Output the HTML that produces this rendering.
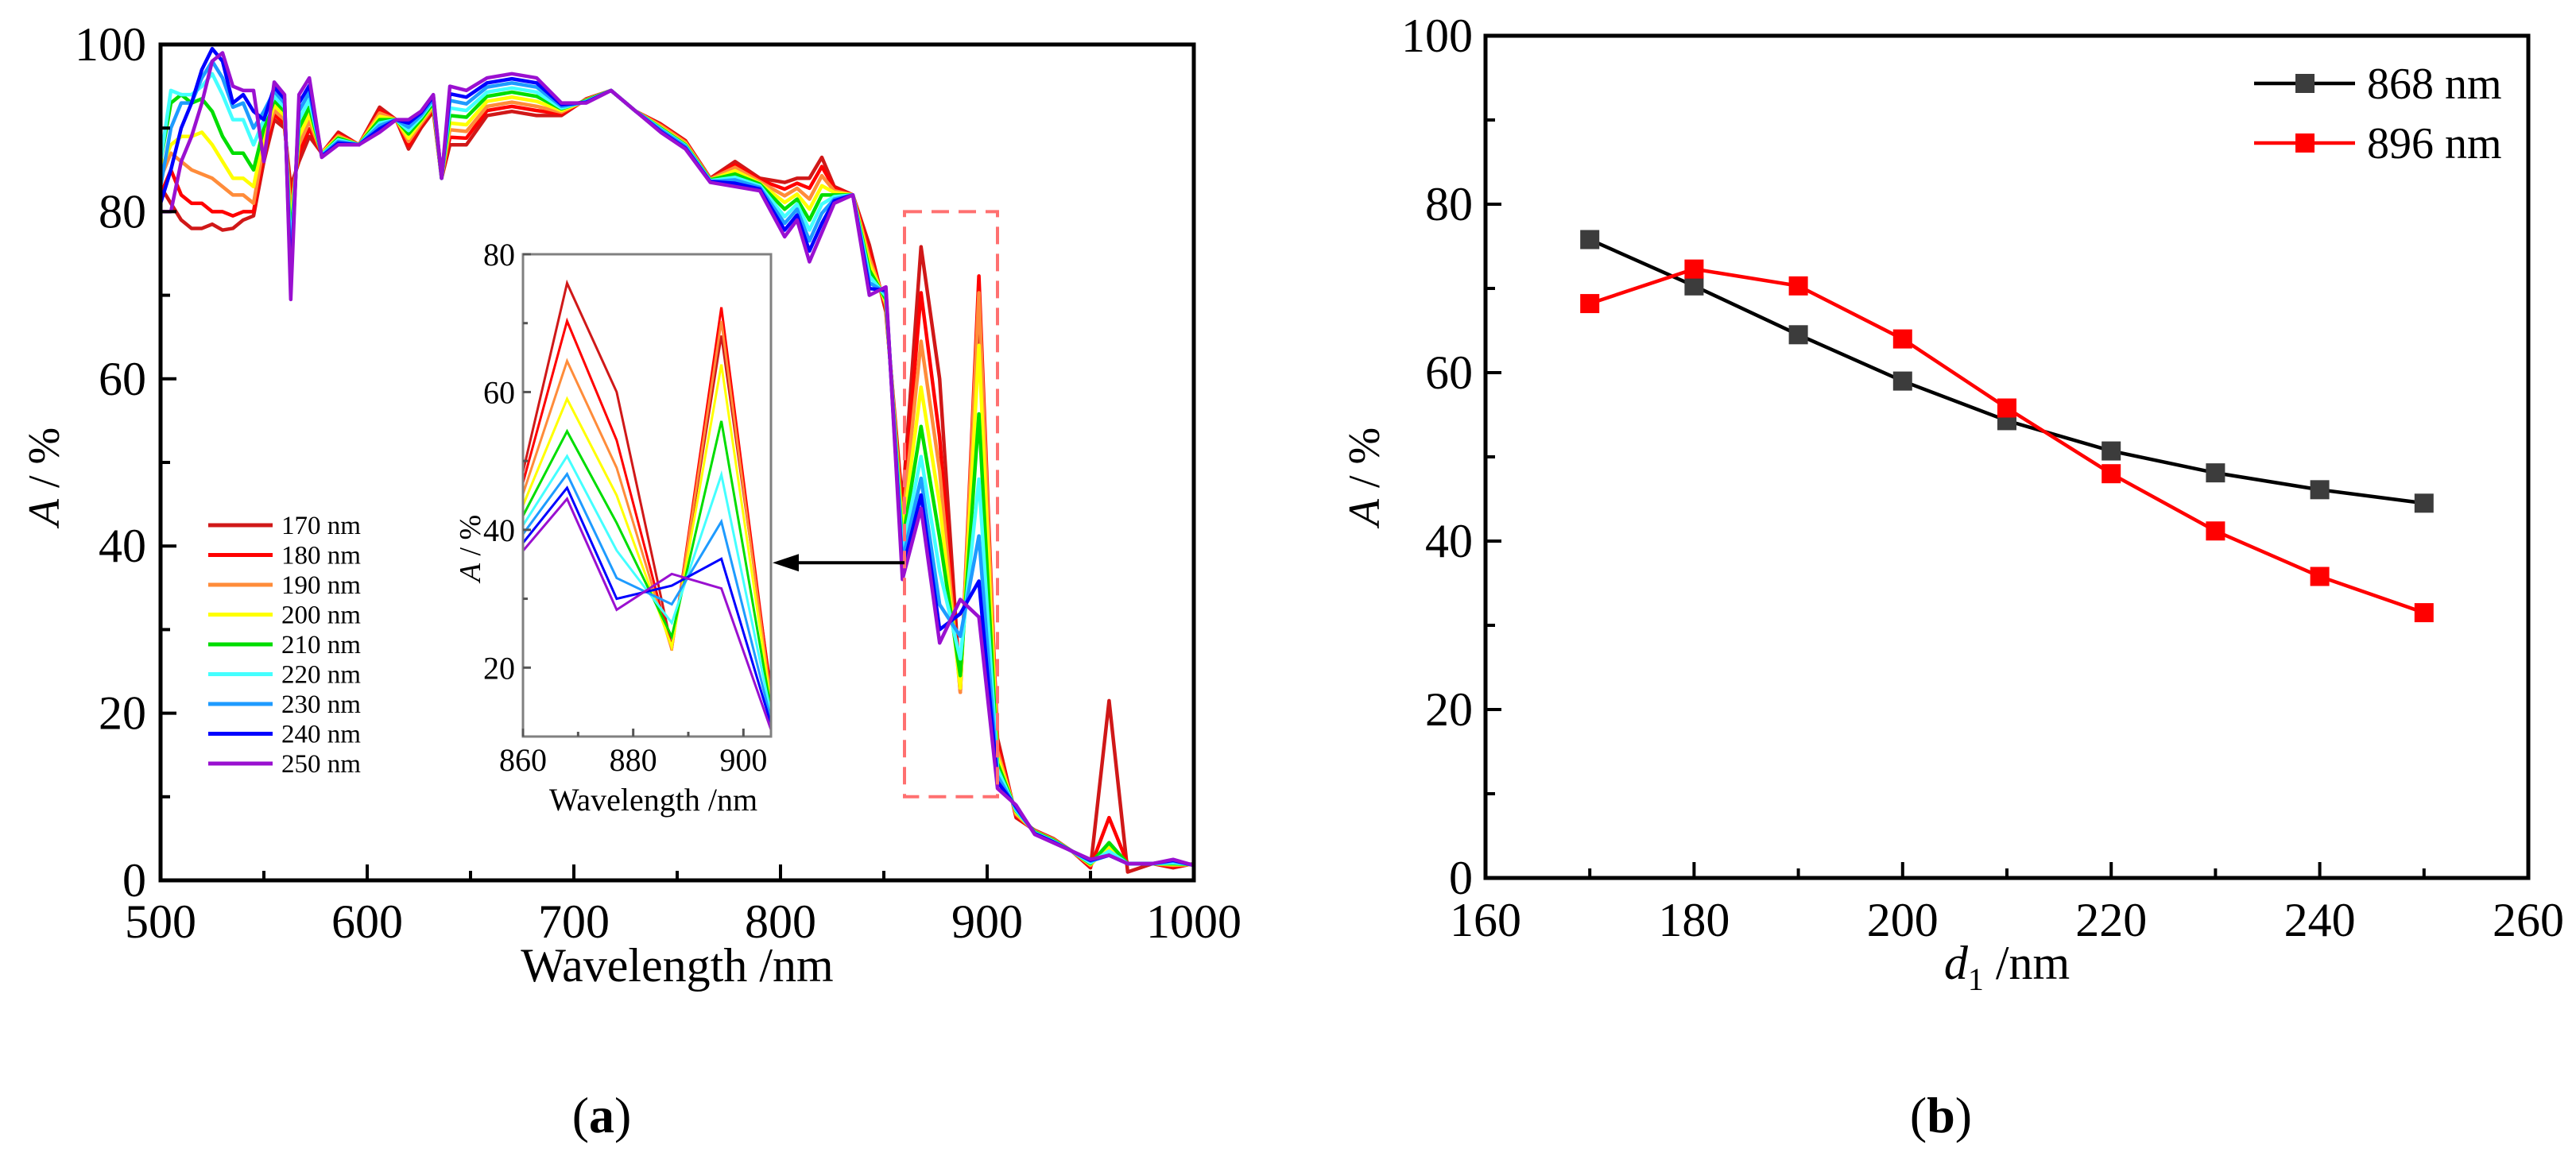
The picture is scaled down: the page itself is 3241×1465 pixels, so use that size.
<!DOCTYPE html>
<html><head><meta charset="utf-8">
<style>
html,body{margin:0;padding:0;background:#fff;}
svg{display:block;font-family:"Liberation Serif",serif;}
</style></head>
<body>
<svg id="fig" width="3241" height="1465" viewBox="0 0 3241 1465" xmlns="http://www.w3.org/2000/svg">
<rect width="3241" height="1465" fill="#fff"/>
<g id="pa"></g>
<g id="pb"></g>
<text x="757" y="1425" font-size="64" text-anchor="middle">(<tspan font-weight="bold">a</tspan>)</text>
<text x="2442" y="1425" font-size="64" text-anchor="middle">(<tspan font-weight="bold">b</tspan>)</text>
</svg>
<script>
const wl = [500,505,510,515,520,525,530,535,540,545,550,555,560,563,567,572,578,586,596,606,614,620,626,632,636,640,648,658,670,682,694,706,718,730,742,754,766,778,790,802,808,814,820,826,835,843,851,859,868,877,887,896,905,914,923,932,941,950,959,968,980,990,1000];
const s170 = [83,81,79,78,78,78.5,77.8,78,79,79.5,86,91,90,83,86,89,87,89.5,88,92.5,91,87.5,90,92,84,88,88,91.5,92,91.5,91.5,93.5,94.5,92,90.5,88.5,84,86,84,83.5,84,84,86.5,83,82,76,68,45,75.8,60,23,68.2,17,7.5,6,5,3.5,1.5,21.5,1,2,1.5,2];
const s180 = [82,85,82,81,81,80,80,79.5,80,80,87,91.6,90.5,81.3,87,89.9,87,89.3,88,92.1,91,87.9,90.3,92.3,84,88.9,88.8,92.1,92.6,92.1,91.7,93.4,94.5,92,90.4,88.4,83.9,85.6,83.8,82.7,83.4,82.8,85.4,82.8,82,75.3,68.4,43.9,70.3,53,22.5,72.3,16.3,7.7,5.9,4.9,3.5,1.6,7.5,2,2,1.6,2];
const s190 = [84,87,86,85,84.5,84,83,82,82,81,88,92.1,91,79.6,88,90.8,87,89.1,88,91.8,91,88.4,90.5,92.5,84,89.8,89.6,92.6,93.1,92.6,91.9,93.4,94.5,92,90.3,88.3,83.9,85.3,83.6,81.9,82.8,81.5,84.3,82.5,82,74.5,68.8,42.8,64.5,49,22.5,70.3,15.5,7.9,5.9,4.9,3.5,1.8,4.5,2,2,1.8,1.9];
const s200 = [85,88,89,89,89.5,88,86,84,84,83,89,92.7,91.5,77.9,89,91.6,87,88.9,88,91.4,91,88.8,90.8,92.8,84,90.6,90.4,93.2,93.7,93.2,92.1,93.3,94.5,92,90.1,88.1,83.8,84.9,83.4,81.1,82.1,80.3,83.1,82.3,82,73.8,69.1,41.6,59,45,23,64,14.8,8.1,5.8,4.8,3.5,1.9,4,2,2,1.9,1.9];
const s210 = [86,93,94,93,93.5,92,89,87,87,85,90,93.3,92,76.3,90,92.5,86.8,88.8,88,91,91,89.3,91,93,84,91.5,91.3,93.8,94.3,93.8,92.3,93.3,94.5,92,90,88,83.8,84.5,83.3,80.3,81.5,79,82,82,82,73,69.5,40.5,54.3,41,24.5,55.8,14,8.3,5.8,4.8,3.5,2,4.5,2,2,2,1.9];
const s220 = [86,94.5,94,94,95,96.5,94,91,91,88,91,93.8,92.5,74.6,91,93.4,86.8,88.6,88,90.6,91,89.7,91.3,93.3,84,92.4,92.1,94.3,94.8,94.3,92.4,93.2,94.5,92,89.9,87.9,83.7,84.1,83.1,79.4,80.9,77.8,80.9,81.8,82,72.3,69.9,39.4,50.7,37,26.5,48,13.3,8.4,5.7,4.7,3.5,2.1,3.5,2,2,2.1,1.9];
const s230 = [83,90,93,93,96,98,96,92.5,93,90,92,94.4,93,72.9,92,94.3,86.7,88.4,88,90.3,91,90.1,91.5,93.5,84,93.3,92.9,94.9,95.4,94.9,92.6,93.1,94.5,92,89.8,87.8,83.6,83.8,82.9,78.6,80.3,76.5,79.8,81.5,82,71.5,70.3,38.3,48.1,33,29.2,41.2,12.5,8.6,5.6,4.6,3.5,2.3,3,2,2,2.3,1.8];
const s240 = [81,85,90,93,97,99.5,98,93,94,92,91,94.9,93.5,71.2,93,95.1,86.6,88.2,88,89.9,91,90.6,91.8,93.8,84,94.1,93.7,95.4,95.9,95.4,92.8,93.1,94.5,92,89.6,87.6,83.6,83.4,82.7,77.8,79.6,75.3,78.6,81.3,82,70.8,70.6,37.1,46.1,30,31.9,35.8,11.8,8.8,5.6,4.6,3.5,2.4,3,2,2,2.4,1.8];
const s250 = [80,80,86,89,93,98,99,95,94.5,94.5,86,95.5,94,69.5,94,96,86.5,88,88,89.5,91,91,92,94,84,95,94.5,96,96.5,96,93,93,94.5,92,89.5,87.5,83.5,83,82.5,77,79,74,77.5,81,82,70,71,36,44.5,28.4,33.6,31.5,11,9,5.5,4.5,3.5,2.5,3,2,2,2.5,1.8];
const seriesLabels = ["170 nm","180 nm","190 nm","200 nm","210 nm","220 nm","230 nm","240 nm","250 nm"];
const seriesColors = ["#d01818","#ff0000","#ff8c3a","#ffff00","#00dd00","#44ffff","#1e9bff","#0000ff","#9a10d0"];
const seriesData = [s170,s180,s190,s200,s210,s220,s230,s240,s250];
const aXTicks = [500,600,700,800,900,1000];
const aYTicks = [0,20,40,60,80,100];
const insXTicks = [860,880,900];
const insYTicks = [20,40,60,80];
const dCats = [170,180,190,200,210,220,230,240,250];
const b868 = [75.8,70.3,64.5,59.0,54.3,50.7,48.1,46.1,44.5];
const b896 = [68.2,72.3,70.3,64.0,55.8,48.0,41.2,35.8,31.5];
const bXTicks = [160,180,200,220,240,260];
const bYTicks = [0,20,40,60,80,100];

const NS="http://www.w3.org/2000/svg";
function mk(parent,tag,attrs,txt){const e=document.createElementNS(NS,tag);for(const k in attrs)e.setAttribute(k,attrs[k]);if(txt!==undefined)e.textContent=txt;parent.appendChild(e);return e;}

/* ---------- Panel A ---------- */
const pa=document.getElementById('pa');
const ax={x0:202,x1:1502,y0:1108,y1:56,xmin:500,xmax:1000,ymin:0,ymax:100};
const X=v=>ax.x0+(v-ax.xmin)/(ax.xmax-ax.xmin)*(ax.x1-ax.x0);
const Y=v=>ax.y0-(v-ax.ymin)/(ax.ymax-ax.ymin)*(ax.y0-ax.y1);
const cpa=mk(pa,'clipPath',{id:'clipA'});
mk(cpa,'rect',{x:ax.x0,y:ax.y1,width:ax.x1-ax.x0,height:ax.y0-ax.y1});
const ga=mk(pa,'g',{'clip-path':'url(#clipA)'});


seriesData.forEach((s,i)=>{
  const p=mk(ga,'polyline',{points:s.map((v,j)=>X(wl[j])+','+Y(v)).join(' '),fill:'none',stroke:seriesColors[i],'stroke-width':4.5,'stroke-linejoin':'round'});
  
  
});
const frA=mk(pa,'rect',{x:ax.x0,y:ax.y1,width:ax.x1-ax.x0,height:ax.y0-ax.y1,fill:'none',stroke:'#000','stroke-width':5});


for(let v=550;v<1000;v+=100){mk(pa,'line',{x1:X(v),x2:X(v),y1:ax.y0,y2:ax.y0-12,stroke:'#000','stroke-width':4});}
for(let v=10;v<100;v+=20){mk(pa,'line',{x1:ax.x0,x2:ax.x0+12,y1:Y(v),y2:Y(v),stroke:'#000','stroke-width':4});}
aXTicks.forEach(v=>{
  if(v>500&&v<1000)mk(pa,'line',{x1:X(v),x2:X(v),y1:ax.y0,y2:ax.y0-20,stroke:'#000','stroke-width':4});
  const t=mk(pa,'text',{x:X(v),y:1180,'font-size':60,'text-anchor':'middle'},v);
  
  
});
aYTicks.forEach(v=>{
  if(v>0&&v<100)mk(pa,'line',{x1:ax.x0,x2:ax.x0+20,y1:Y(v),y2:Y(v),stroke:'#000','stroke-width':4});
  const t=mk(pa,'text',{x:184,y:Y(v)+20,'font-size':60,'text-anchor':'end'},v);
  
  
});
let t=mk(pa,'text',{x:852,y:1235,'font-size':60,'text-anchor':'middle'},'Wavelength /nm');


t=mk(pa,'text',{x:0,y:0,'font-size':56,'text-anchor':'middle',transform:'translate(74,600) rotate(-90)'});
t.innerHTML='<tspan font-style="italic">A</tspan> / %';


/* legend */
const lg=mk(pa,'g',{});


seriesLabels.forEach((lab,i)=>{
  const y=661+i*37.5;
  const e=mk(lg,'g',{});
  
  
  mk(e,'line',{x1:262,x2:343,y1:y,y2:y,stroke:seriesColors[i],'stroke-width':5});
  mk(e,'text',{x:354,y:y+11,'font-size':33},lab);
});
/* dashed box */
const db=mk(pa,'rect',{x:X(860),y:Y(80),width:X(905)-X(860),height:Y(10)-Y(80),fill:'none',stroke:'#ff7070','stroke-width':4,'stroke-dasharray':'22,12'});


/* inset */
const ins={x0:658,x1:970,y0:927,y1:320,xmin:860,xmax:905,ymin:10,ymax:80};
const IX=v=>ins.x0+(v-ins.xmin)/(ins.xmax-ins.xmin)*(ins.x1-ins.x0);
const IY=v=>ins.y0-(v-ins.ymin)/(ins.ymax-ins.ymin)*(ins.y0-ins.y1);
const gi=mk(pa,'g',{});


mk(gi,'rect',{x:ins.x0,y:ins.y1,width:ins.x1-ins.x0,height:ins.y0-ins.y1,fill:'#fff'});
const cp=mk(gi,'clipPath',{id:'clipI'});mk(cp,'rect',{x:ins.x0,y:ins.y1,width:ins.x1-ins.x0,height:ins.y0-ins.y1});
const gil=mk(gi,'g',{'clip-path':'url(#clipI)'});
seriesData.forEach((s,i)=>{
  const pts=[];s.forEach((v,j)=>{if(wl[j]>=851&&wl[j]<=914)pts.push(IX(wl[j])+','+IY(v));});
  const p=mk(gil,'polyline',{points:pts.join(' '),fill:'none',stroke:seriesColors[i],'stroke-width':3});
  
  
});
mk(gi,'rect',{x:ins.x0,y:ins.y1,width:ins.x1-ins.x0,height:ins.y0-ins.y1,fill:'none',stroke:'#808080','stroke-width':3});
[870,890].forEach(v=>mk(gi,'line',{x1:IX(v),x2:IX(v),y1:ins.y0,y2:ins.y0-6,stroke:'#555','stroke-width':3}));
[30,50,70].forEach(v=>mk(gi,'line',{x1:ins.x0,x2:ins.x0+6,y1:IY(v),y2:IY(v),stroke:'#555','stroke-width':3}));
insXTicks.forEach(v=>{
  mk(gi,'line',{x1:IX(v),x2:IX(v),y1:ins.y0,y2:ins.y0-10,stroke:'#555','stroke-width':3});
  const tt=mk(gi,'text',{x:IX(v),y:970,'font-size':40,'text-anchor':'middle'},v);
  
  
});
insYTicks.forEach(v=>{
  mk(gi,'line',{x1:ins.x0,x2:ins.x0+10,y1:IY(v),y2:IY(v),stroke:'#555','stroke-width':3});
  const tt=mk(gi,'text',{x:648,y:IY(v)+14,'font-size':40,'text-anchor':'end'},v);
  
  
});
t=mk(gi,'text',{x:822,y:1020,'font-size':40,'text-anchor':'middle'},'Wavelength /nm');


t=mk(gi,'text',{x:0,y:0,'font-size':38,'text-anchor':'middle',transform:'translate(604,690) rotate(-90)'});
t.innerHTML='<tspan font-style="italic">A</tspan> / %';


/* arrow */
const ar=mk(pa,'g',{});


mk(ar,'line',{x1:X(860),x2:995,y1:Y(38),y2:Y(38),stroke:'#000','stroke-width':4});
mk(ar,'polygon',{points:`972,${Y(38)} 1005,${Y(38)-11} 1005,${Y(38)+11}`,fill:'#000'});

/* ---------- Panel B ---------- */
const pb=document.getElementById('pb');
const bx={x0:1869,x1:3181,y0:1105,y1:45,xmin:160,xmax:260,ymin:0,ymax:100};
const BX=v=>bx.x0+(v-bx.xmin)/(bx.xmax-bx.xmin)*(bx.x1-bx.x0);
const BY=v=>bx.y0-(v-bx.ymin)/(bx.ymax-bx.ymin)*(bx.y0-bx.y1);
const frB=mk(pb,'rect',{x:bx.x0,y:bx.y1,width:bx.x1-bx.x0,height:bx.y0-bx.y1,fill:'none',stroke:'#000','stroke-width':5});


for(let v=170;v<260;v+=20)mk(pb,'line',{x1:BX(v),x2:BX(v),y1:bx.y0,y2:bx.y0-12,stroke:'#000','stroke-width':4});
for(let v=10;v<100;v+=20)mk(pb,'line',{x1:bx.x0,x2:bx.x0+12,y1:BY(v),y2:BY(v),stroke:'#000','stroke-width':4});
bXTicks.forEach(v=>{
  if(v>160&&v<260)mk(pb,'line',{x1:BX(v),x2:BX(v),y1:bx.y0,y2:bx.y0-20,stroke:'#000','stroke-width':4});
  const tt=mk(pb,'text',{x:BX(v),y:1178,'font-size':60,'text-anchor':'middle'},v);
  
  
});
bYTicks.forEach(v=>{
  if(v>0&&v<100)mk(pb,'line',{x1:bx.x0,x2:bx.x0+20,y1:BY(v),y2:BY(v),stroke:'#000','stroke-width':4});
  const tt=mk(pb,'text',{x:1853,y:BY(v)+20,'font-size':60,'text-anchor':'end'},v);
  
  
});
t=mk(pb,'text',{x:2525,y:1232,'font-size':60,'text-anchor':'middle'});
t.innerHTML='<tspan font-style="italic">d</tspan><tspan font-size="40" dy="14">1</tspan><tspan dy="-14"> /nm</tspan>';


t=mk(pb,'text',{x:0,y:0,'font-size':56,'text-anchor':'middle',transform:'translate(1735,600) rotate(-90)'});
t.innerHTML='<tspan font-style="italic">A</tspan> / %';


function drawSeries(vals,lineCol,markCol,name){
  const g=mk(pb,'g',{});
  
  
  mk(g,'polyline',{points:vals.map((v,i)=>BX(dCats[i])+','+BY(v)).join(' '),fill:'none',stroke:lineCol,'stroke-width':4.5});
  vals.forEach((v,i)=>{
    const m=mk(g,'rect',{x:BX(dCats[i])-12,y:BY(v)-12,width:24,height:24,fill:markCol});
    
    
  });
}
drawSeries(b868,'#000','#3c3c3c','series-868nm');
drawSeries(b896,'#ff0000','#ff0000','series-896nm');
const lb=mk(pb,'g',{});


[['868 nm','#000','#3c3c3c',105],['896 nm','#ff0000','#ff0000',180]].forEach(([lab,lc,mc,y])=>{
  const e=mk(lb,'g',{});
  
  
  mk(e,'line',{x1:2836,x2:2963,y1:y,y2:y,stroke:lc,'stroke-width':4.5});
  mk(e,'rect',{x:2888,y:y-12,width:24,height:24,fill:mc});
  mk(e,'text',{x:2978,y:y+19,'font-size':56},lab);
});
</script>
</body></html>
